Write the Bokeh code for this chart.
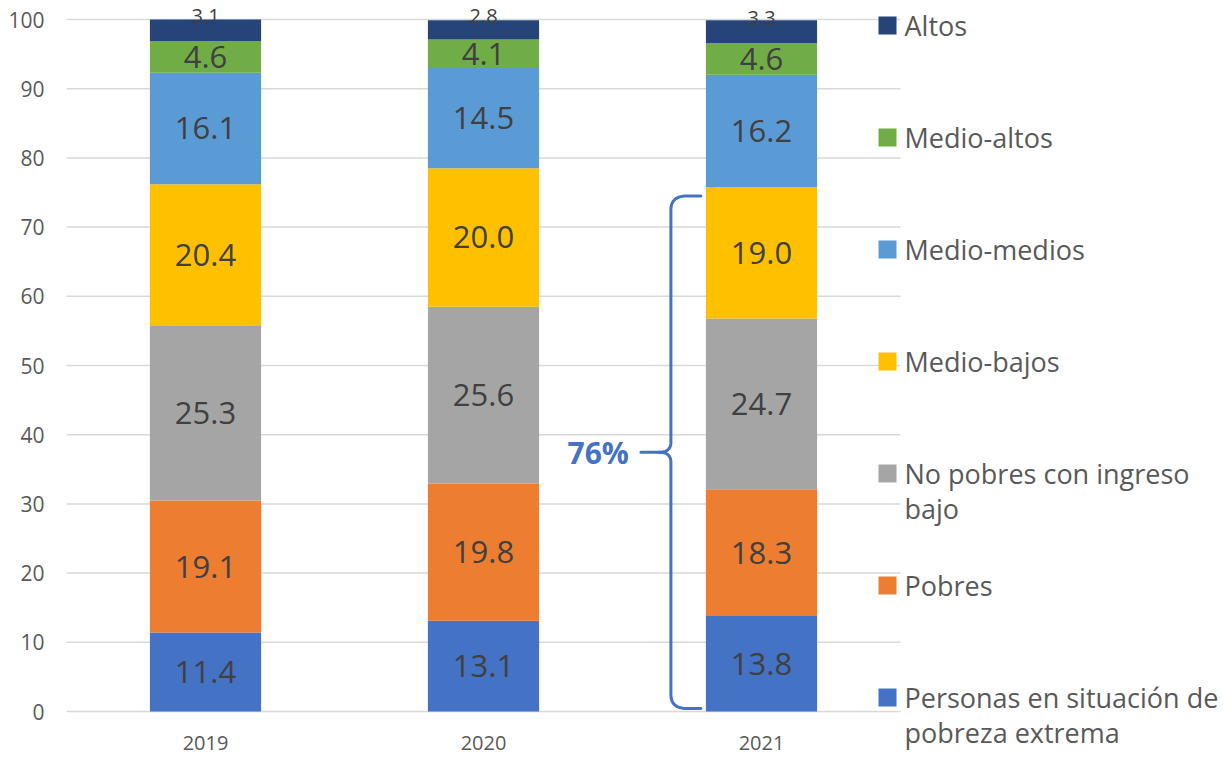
import numpy as np
from bokeh.plotting import figure
from bokeh.models import Range1d, FixedTicker
from bokeh.core.properties import value
from bokeh.embed import file_html
from bokeh.resources import INLINE

# ---------------- data ----------------
years = ["2019", "2020", "2021"]
series_names = [
    "Personas en situación de\npobreza extrema",
    "Pobres",
    "No pobres con ingreso\nbajo",
    "Medio-bajos",
    "Medio-medios",
    "Medio-altos",
    "Altos",
]
extrema = [11.4, 13.1, 13.8]
pobres = [19.1, 19.8, 18.3]
no_pobres_bajo = [25.3, 25.6, 24.7]
medio_bajos = [20.4, 20.0, 19.0]
medio_medios = [16.1, 14.5, 16.2]
medio_altos = [4.6, 4.1, 4.6]
altos = [3.1, 2.8, 3.3]
colors = ["#4472C4", "#ED7D31", "#A5A5A5", "#FFC000", "#5B9BD5", "#70AD47", "#264478"]
y_ticks = list(range(0, 101, 10))
brace_label = "76%"
brace_year = 2  # index of 2021
brace_groups = 4  # first four groups

series = [extrema, pobres, no_pobres_bajo, medio_bajos, medio_medios, medio_altos, altos]

# ---------------- layout constants ----------------
W, H = 1222, 755
LEFT = 66
SX = 278.0   # px per x unit
SY = 6.92    # px per y unit
TOP100 = 19  # px from top where y=100 sits
FONT = "Open Sans"

y_hi = 100 + TOP100 / SY
y_lo = 100 - (H - TOP100) / SY
x_hi = (W - LEFT) / SX

p = figure(width=W, height=H,
           x_range=Range1d(0, x_hi), y_range=Range1d(y_lo, y_hi),
           output_backend="svg", toolbar_location=None,
           x_axis_location=None,
           min_border_left=LEFT, min_border_right=0,
           min_border_top=0, min_border_bottom=0)
p.xgrid.visible = False
p.ygrid.visible = False
p.outline_line_color = None
p.background_fill_color = "white"

ya = p.yaxis[0]
ya.ticker = FixedTicker(ticks=y_ticks)
ya.axis_line_color = None
ya.major_tick_line_color = None
ya.minor_tick_line_color = None
ya.major_tick_out = 0
ya.major_label_standoff = 22
ya.major_label_text_font = FONT
ya.major_label_text_font_size = "21px"
ya.major_label_text_color = "#595959"

ncat = len(years)
# gridlines over category area
p.segment(x0=[0] * len(y_ticks), x1=[ncat] * len(y_ticks), y0=y_ticks, y1=y_ticks,
          line_color="#D9D9D9", line_width=1.5)

xs = np.arange(ncat) + 0.5
bottom = np.zeros(ncat)
for i, vals in enumerate(series):
    v = np.array(vals)
    top = bottom + v
    p.vbar(x=xs, bottom=bottom, top=top, width=0.4, fill_color=colors[i], line_color=None)
    mid = (bottom + top) / 2
    labels = ["%.1f" % a for a in v]
    if i == len(series) - 1:
        p.text(x=xs, y=mid, text=labels, text_align="center", text_baseline="middle",
               text_font=value(FONT), text_font_size="20px", text_color="#404040",
               y_offset=-14)
    else:
        p.text(x=xs, y=mid, text=labels, text_align="center", text_baseline="middle",
               text_font=value(FONT), text_font_size="31px", text_color="#404040")
    bottom = top

# x category labels
p.text(x=xs, y=[-31 / SY] * ncat, text=years, text_align="center", text_baseline="middle",
       text_font=value(FONT), text_font_size="20px", text_color="#595959")

# ---------------- legend (manual) ----------------
leg_x_sq = ncat - 13 / SX
leg_x_tx = ncat + 4 / SX
leg_top = 100 - 6 / SY
leg_step = 112 / SY
line_gap = 35 / SY
order = list(range(len(series)))[::-1]
sq_x, sq_y, sq_c = [], [], []
tx_x, tx_y, tx_t = [], [], []
for k, idx in enumerate(order):
    yy = leg_top - k * leg_step
    sq_x.append(leg_x_sq); sq_y.append(yy); sq_c.append(colors[idx])
    for j, ln in enumerate(series_names[idx].split("\n")):
        tx_x.append(leg_x_tx); tx_y.append(yy - j * line_gap); tx_t.append(ln)
p.scatter(x=sq_x, y=sq_y, marker="square", size=18, fill_color=sq_c, line_color=None)
p.text(x=tx_x, y=tx_y, text=tx_t, text_align="left", text_baseline="middle",
       text_font=value(FONT), text_font_size="27px", text_color="#595959")

# ---------------- brace ----------------
def quad(p0, c, p1, n=24):
    t = np.linspace(0, 1, n)
    x = (1 - t) ** 2 * p0[0] + 2 * (1 - t) * t * c[0] + t ** 2 * p1[0]
    y = (1 - t) ** 2 * p0[1] + 2 * (1 - t) * t * c[1] + t ** 2 * p1[1]
    return list(x), list(y)

bx = brace_year + 0.5 - 0.2  # left edge of bar
xv = bx - 35 / SX
xe = bx - 5 / SX
xtip = bx - 65 / SX
yt = sum(s[brace_year] for s in series[:brace_groups]) - 9 / SY
yb = 3 / SY
ym = (yt + yb) / 2

ux, uy = [xe], [yt]
cx, cy = quad((xv + 16 / SX, yt), (xv, yt), (xv, yt - 14 / SY))
ux += cx; uy += cy
ux.append(xv); uy.append(ym + 10 / SY)
cx, cy = quad((xv, ym + 10 / SY), (xv, ym), (xv - 12 / SX, ym))
ux += cx; uy += cy
ux.append(xtip); uy.append(ym)

lx, ly = [], []
cx, cy = quad((xv - 12 / SX, ym), (xv, ym), (xv, ym - 10 / SY))
lx += cx; ly += cy
lx.append(xv); ly.append(yb + 14 / SY)
cx, cy = quad((xv, yb + 14 / SY), (xv, yb), (xv + 16 / SX, yb))
lx += cx; ly += cy
lx.append(xe); ly.append(yb)

p.multi_line(xs=[ux, lx], ys=[uy, ly], line_color="#4472C4", line_width=3,
             line_cap="round", line_join="round")
p.text(x=[xtip - 12 / SX], y=[ym], text=[brace_label], text_align="right", text_baseline="middle",
       text_font=value(FONT), text_font_size="30px", text_font_style="bold", text_color="#4472C4")

open("out.html", "w").write(file_html(p, INLINE))
